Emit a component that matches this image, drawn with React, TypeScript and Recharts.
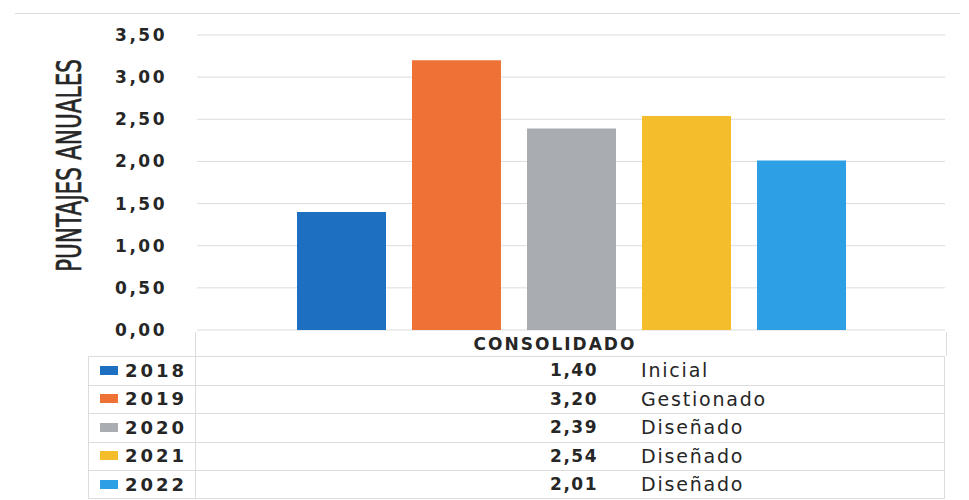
import { Bar, BarChart, CartesianGrid, XAxis, YAxis } from "recharts"

const years = ['2018', '2019', '2020', '2021', '2022']
const scores = [1.4, 3.2, 2.39, 2.54, 2.01]
const levels = ['Inicial', 'Gestionado', 'Diseñado', 'Diseñado', 'Diseñado']
const yTicks = [0, 0.5, 1, 1.5, 2, 2.5, 3, 3.5]
const category = 'CONSOLIDADO'
const axisTitle = 'PUNTAJES ANUALES'

const COLORS = ['#1d6fc2', '#ee7235', '#a9acb1', '#f4bd2c', '#2c9fe5']

const row: Record<string, any> = { name: category }
years.forEach((y, i) => { row[y] = scores[i] })
const data = [row]

const fmt = (v: number) => v.toFixed(2).replace('.', ',')

const TEXT = '#262626'
const LINE = '#dcdcdc'
const tableFont = '"DejaVu Sans", Verdana, sans-serif'

// condensed title: squeeze the glyphs horizontally instead of using textLength
function AxisTitle(props: any) {
  const { viewBox } = props
  const cx = 62
  const cy = viewBox.y + viewBox.height / 2 - 17
  return (
    <text
      x={0}
      y={0}
      transform={`translate(${cx}, ${cy}) rotate(-90) scale(0.73, 1)`}
      textAnchor="middle"
      dominantBaseline="central"
      fontSize={33}
      fontFamily='"DejaVu Sans Condensed", "Liberation Sans Narrow", sans-serif'
      fill={TEXT}
      stroke={TEXT}
      strokeWidth={0.6}
    >
      {axisTitle}
    </text>
  )
}

export default function App() {
  const headerTop = 324
  const headerH = 24
  const rowH = 28.5
  const leftX = 80
  const midX = 187
  const rightX = 937

  return (
    <div style={{ position: 'relative', width: 953, height: 492, background: '#fff' }}>
      <div style={{ position: 'absolute', left: 7, top: 5, width: 945, height: 1, background: LINE }} />
      <BarChart
        width={953}
        height={340}
        data={data}
        margin={{ top: 27, right: 16, bottom: 18, left: 0 }}
        barSize={89}
        barGap={26}
        style={{ position: 'absolute', left: 0, top: 0 }}
      >
        <CartesianGrid vertical={false} stroke={LINE} />
        <XAxis dataKey="name" hide />
        <YAxis
          width={189}
          domain={[0, 3.5]}
          ticks={yTicks}
          interval={0}
          tickFormatter={fmt}
          axisLine={false}
          tickLine={false}
          tickMargin={24}
          tick={{ fill: TEXT, fontSize: 17, fontWeight: 700, fontFamily: tableFont, letterSpacing: 2.5 }}
          label={<AxisTitle />}
        />
        {years.map((y, i) => (
          <Bar key={y} dataKey={y} fill={COLORS[i]} isAnimationActive={false} />
        ))}
      </BarChart>

      {/* data table under the chart */}
      <div style={{ position: 'absolute', left: midX, top: headerTop, width: rightX - midX, height: headerH, background: '#fff', borderLeft: `1px solid ${LINE}`, borderRight: `1px solid ${LINE}` }} />
      <div style={{ position: 'absolute', left: midX, top: headerTop, width: 720, height: headerH, display: 'flex', alignItems: 'center', justifyContent: 'center', fontFamily: tableFont, fontWeight: 700, fontSize: 17, letterSpacing: 2, color: TEXT }}>
        {category}
      </div>
      {years.map((y, i) => {
        const top = headerTop + headerH + i * rowH
        return (
          <div key={y} style={{ position: 'absolute', left: leftX, top, width: rightX - leftX, height: rowH, background: '#fff', borderTop: `1px solid ${LINE}`, borderBottom: i === years.length - 1 ? `1px solid ${LINE}` : 'none', borderLeft: `1px solid ${LINE}`, borderRight: `1px solid ${LINE}`, boxSizing: 'border-box' }}>
            <div style={{ position: 'absolute', left: midX - leftX - 1, top: -1, width: 1, height: rowH, background: LINE }} />
            <div style={{ position: 'absolute', left: 11, top: (rowH - 9) / 2 - 1, width: 18, height: 9, background: COLORS[i] }} />
            <div style={{ position: 'absolute', left: 36, top: 0, height: rowH - 2, display: 'flex', alignItems: 'center', fontFamily: tableFont, fontWeight: 700, fontSize: 18, letterSpacing: 3, color: TEXT }}>
              {y}
            </div>
            <div style={{ position: 'absolute', right: rightX - 591, top: 0, height: rowH - 2, display: 'flex', alignItems: 'center', fontFamily: tableFont, fontWeight: 700, fontSize: 17, letterSpacing: 1.5, color: TEXT }}>
              {fmt(scores[i])}
            </div>
            <div style={{ position: 'absolute', left: 632 - leftX, top: 0, height: rowH - 2, display: 'flex', alignItems: 'center', fontFamily: tableFont, fontSize: 19, letterSpacing: 1.8, color: TEXT }}>
              {levels[i]}
            </div>
          </div>
        )
      })}
    </div>
  )
}
